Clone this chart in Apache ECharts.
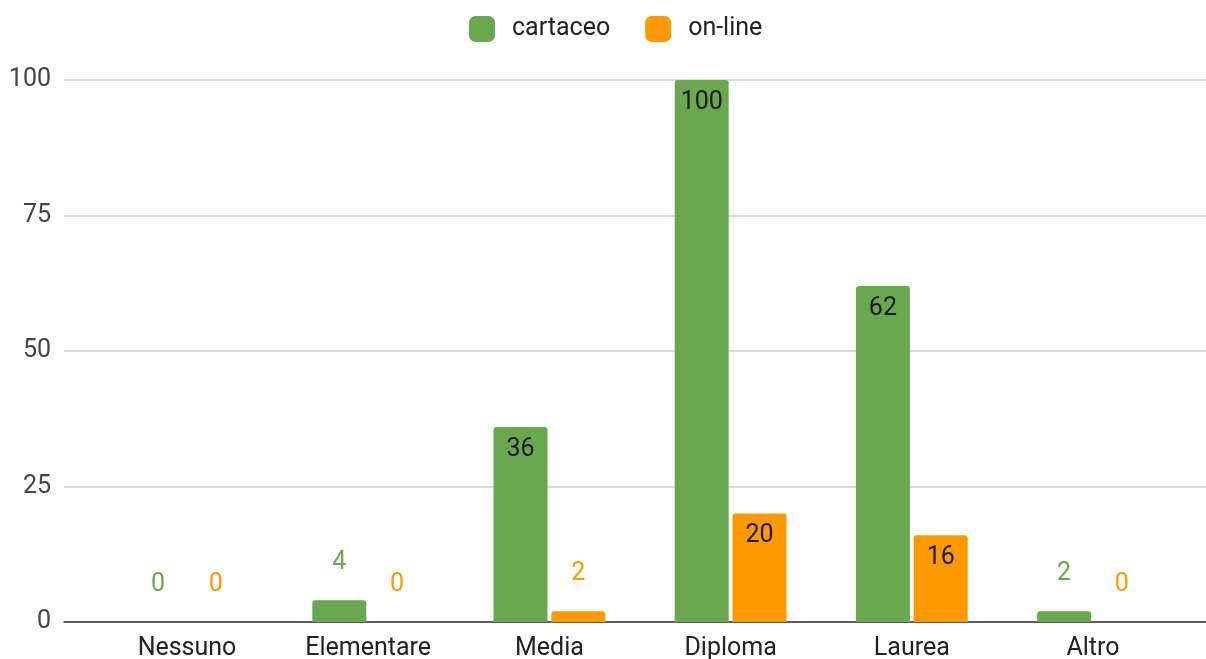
<!DOCTYPE html>
<html>
<head>
<meta charset="utf-8">
<script src="https://cdn.jsdelivr.net/npm/echarts@6/dist/echarts.min.js"></script>
<style>
  html, body { margin: 0; padding: 0; background: #fff; }
  #chart { width: 1206px; height: 659px; }
</style>
</head>
<body>
<div id="chart"></div>
<script>
// Titolo di studio vs. tipo di questionario
const categories = ['Nessuno', 'Elementare', 'Media', 'Diploma', 'Laurea', 'Altro'];
const seriesNames = ['cartaceo', 'on-line'];
const cartaceo = [0, 4, 36, 100, 62, 2];
const online = [0, 0, 2, 20, 16, 0];
const yTicks = [0, 25, 50, 75, 100];

const colors = ['#6aa84f', '#ff9900'];
const FONT = 'Roboto, "Noto Sans", sans-serif';
const FS = 25;

// Tall bars carry their value inside the top; short ones above it in the series colour.
function withLabels(values, color) {
  return values.map(v => {
    const inside = v >= 10;
    return {
      value: v,
      label: inside
        ? { show: true, position: 'insideTop', distance: 10, color: '#1a1a1a', fontSize: FS, fontFamily: FONT }
        : { show: true, position: 'top', distance: 25, color: color, fontSize: FS, fontFamily: FONT }
    };
  });
}

const chart = echarts.init(document.getElementById('chart'), null, { renderer: 'canvas' });
chart.setOption({
  animation: false,
  color: colors,
  textStyle: { fontFamily: FONT },
  legend: {
    data: seriesNames,
    top: 11,
    left: 464,
    icon: 'roundRect',
    itemWidth: 26,
    itemHeight: 26,
    itemGap: 35,
    textStyle: { fontSize: FS, color: '#222', fontFamily: FONT, padding: [0, 0, 0, 12] }
  },
  // Grid 0 holds the full-width gridlines, baseline and value labels;
  // grid 1 holds the bars over a slightly narrower category band.
  grid: [
    { left: 64, right: 0, top: 80, bottom: 37, outerBoundsMode: 'none' },
    { left: 96.4, right: 22.4, top: 80, bottom: 37, outerBoundsMode: 'none' }
  ],
  xAxis: [
    {
      gridIndex: 0, type: 'value', min: 0, max: 1,
      axisLine: { show: true, onZero: false, lineStyle: { color: '#333', width: 1.5 } },
      axisTick: { show: false }, axisLabel: { show: false }, splitLine: { show: false }
    },
    {
      gridIndex: 1, type: 'category', data: categories,
      axisLine: { show: false }, axisTick: { show: false },
      axisLabel: { fontSize: FS, color: '#222', fontFamily: FONT, margin: 14 }
    }
  ],
  yAxis: [
    {
      gridIndex: 0, type: 'value', min: yTicks[0], max: yTicks[yTicks.length - 1],
      interval: yTicks[1] - yTicks[0],
      axisLine: { show: false }, axisTick: { show: false },
      axisLabel: { fontSize: FS, color: '#444', fontFamily: FONT, margin: 13 },
      splitLine: { lineStyle: { color: '#cccccc', width: 1.5 } }
    },
    {
      gridIndex: 1, type: 'value', min: yTicks[0], max: yTicks[yTicks.length - 1],
      interval: yTicks[1] - yTicks[0],
      show: false, splitLine: { show: false }
    }
  ],
  series: [
    {
      name: seriesNames[0], type: 'bar', xAxisIndex: 1, yAxisIndex: 1,
      barWidth: 54, barGap: '7%',
      itemStyle: { color: colors[0], borderRadius: [3, 3, 0, 0] },
      data: withLabels(cartaceo, colors[0])
    },
    {
      name: seriesNames[1], type: 'bar', xAxisIndex: 1, yAxisIndex: 1,
      barWidth: 54, barGap: '7%',
      itemStyle: { color: colors[1], borderRadius: [3, 3, 0, 0] },
      data: withLabels(online, colors[1])
    }
  ]
});
</script>
</body>
</html>
